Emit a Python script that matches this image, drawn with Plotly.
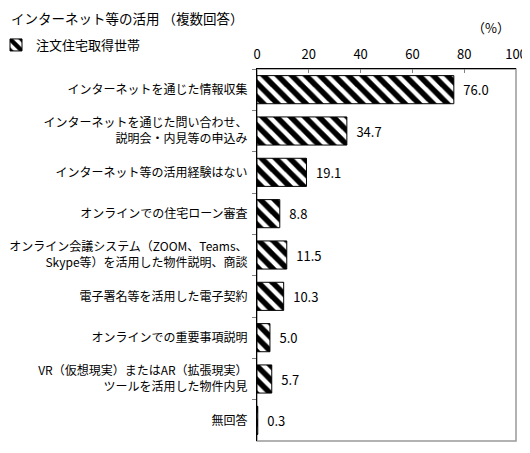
import plotly.graph_objects as go

# data
categories = [
    "インターネットを通じた情報収集",
    "インターネットを通じた問い合わせ、<br>説明会・内見等の申込み",
    "インターネット等の活用経験はない",
    "オンラインでの住宅ローン審査",
    "オンライン会議システム（ZOOM、Teams、<br>Skype等）を活用した物件説明、商談",
    "電子署名等を活用した電子契約",
    "オンラインでの重要事項説明",
    "VR（仮想現実）またはAR（拡張現実）<br>ツールを活用した物件内見",
    "無回答",
]
values = [76.0, 34.7, 19.1, 8.8, 11.5, 10.3, 5.0, 5.7, 0.3]
series_name = "注文住宅取得世帯"
x_ticks = [0, 20, 40, 60, 80, 100]

font_name = "Noto Sans CJK JP"

# the page body has an 8px margin, so the figure is drawn 8px in from the window corner
off = 8
W, H = 530 - off, 453 - off
# plot area in window pixels, moved into figure pixels
left, right, top, bottom = 257 - off, 516 - off, 69 - off, 441 - off
plot_w = right - left
plot_h = bottom - top


def px_x(x):  # window pixel -> paper x
    return (x - off - left) / plot_w


def px_y(y):  # window pixel -> paper y
    return (bottom - (y - off)) / plot_h


fig = go.Figure()

fig.add_trace(go.Bar(
    x=values,
    y=categories,
    orientation="h",
    name=series_name,
    text=["\u2002" + f"{v:.1f}" for v in values],   # small gap before the value
    textposition="outside",
    textfont=dict(size=13, color="black"),
    cliponaxis=False,
    marker=dict(
        color="white",
        line=dict(color="black", width=1),
        pattern=dict(shape="\\", fgcolor="black", bgcolor="white",
                     fgopacity=1, size=10, solidity=0.55),
    ),
))

# gray frame round the plot area (right and bottom sides show)
fig.add_shape(type="rect", xref="paper", yref="paper", x0=0, x1=1, y0=0, y1=1,
              line=dict(color="#999999", width=1.5), layer="below")

# title as an annotation in window pixels, kept clear of the top edge
title_y = 18
fig.add_annotation(
    text="インターネット等の活用 （複数回答）",
    xref="paper", yref="paper",
    x=px_x(9), y=px_y(title_y), xanchor="left", yanchor="middle",
    showarrow=False, font=dict(size=13.5, color="black"),
)

fig.update_layout(
    width=W,
    height=H,
    margin=dict(l=left, r=W - right, t=top, b=H - bottom, autoexpand=False),
    paper_bgcolor="white",
    plot_bgcolor="white",
    font=dict(family=font_name, size=12, color="black"),
    bargap=0.32,
    showlegend=True,
    legend=dict(
        x=px_x(-4), xanchor="left",
        y=px_y(45), yanchor="middle",
        font=dict(size=13),
        itemwidth=30,
        bgcolor="rgba(0,0,0,0)",
    ),
)

fig.add_annotation(
    text="（%）", xref="paper", yref="paper",
    x=px_x(512), y=px_y(27),
    xanchor="right", yanchor="middle",
    showarrow=False, font=dict(size=13),
)

fig.update_xaxes(
    side="top",
    range=[0, 100],
    tickvals=x_ticks,
    ticks="inside",
    ticklen=4,
    tickcolor="#808080",
    showline=True,
    linecolor="black",
    linewidth=1,
    showgrid=False,
    zeroline=False,
    tickfont=dict(size=13),
    ticklabelstandoff=4,
    automargin=False,
)

fig.update_yaxes(
    autorange="reversed",
    ticks="outside",
    tickson="boundaries",
    ticklen=4,
    tickcolor="#808080",
    showline=True,
    linecolor="black",
    linewidth=1,
    showgrid=False,
    tickfont=dict(size=12),
    ticklabelstandoff=6,
    automargin=False,
)

fig.write_html("out.html")
